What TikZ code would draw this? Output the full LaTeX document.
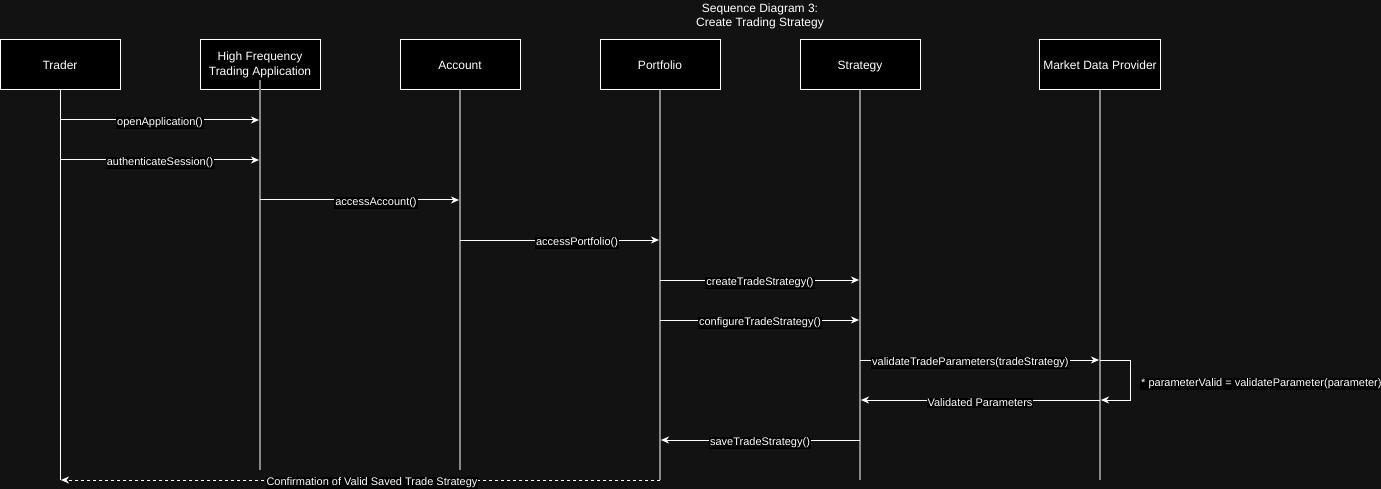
\documentclass[tikz,border=0pt]{standalone}
\usepackage{fontspec}
\setmainfont{Liberation Sans}
\usetikzlibrary{calc}
\usetikzlibrary{arrows.meta}
\definecolor{bgdark}{HTML}{121212}
\definecolor{lifegray}{HTML}{888888}

\begin{document}
\begin{tikzpicture}[
        x=1pt, y=-1pt,
        actor/.style={draw=white,fill=black,text=white,line width=1pt,minimum width=120pt,minimum height=50pt,align=center,font=\fontsize{12}{15}\selectfont},
        life/.style={draw=lifegray,line width=2pt},
        msg/.style={draw=white,line width=1pt,->,shorten >=1pt},
        lbl/.style={fill=black,text=white,inner xsep=1pt,inner ysep=0.5pt,yshift=-3pt,font=\fontsize{11}{13}\selectfont},
        >={Stealth[length=8pt,width=7pt,inset=2.5pt]}
    ]
        \useasboundingbox (0,0) rectangle (1381,489);
        \fill[bgdark] (0,0) rectangle (1381,489);

        \node[text=white,align=center,font=\fontsize{12}{14}\selectfont] (title) at (760,16) {Sequence Diagram 3:\\Create Trading Strategy};

        \node[actor] (trader) at (60,65) {Trader};
        \node[actor] (hfta) at (260,65) {High Frequency\\Trading Application};
        \node[actor] (account) at (460,65) {Account};
        \node[actor] (portfolio) at (660,65) {Portfolio};
        \node[actor,text depth=0pt] (strategy) at (860,65) {Strategy};
        \node[actor] (mdp) at (1100,65) {Market Data Provider};

        \draw[white,line width=1pt] (trader.south) -- (trader |- 0,480);
        \draw[life] ($(hfta.south)+(0,-10)$) -- (hfta |- 0,470);
        \draw[life] (account.south) -- (account |- 0,470);
        \draw[life] (portfolio.south) -- (portfolio |- 0,480);
        \draw[life] (strategy.south) -- (strategy |- 0,480);
        \draw[life] (mdp.south) -- (mdp |- 0,480);

        \draw[msg] (trader |- 0,120) -- node[lbl]{openApplication()} (hfta |- 0,120);
        \draw[msg] (trader |- 0,160) -- node[lbl]{authenticateSession()} (hfta |- 0,160);
        \draw[msg] (hfta |- 0,200) -- node[lbl,pos=0.58]{accessAccount()} (account |- 0,200);
        \draw[msg] (account |- 0,240) -- node[lbl,pos=0.585]{accessPortfolio()} (portfolio |- 0,240);
        \draw[msg] (portfolio |- 0,280) -- node[lbl]{createTradeStrategy()} (strategy |- 0,280);
        \draw[msg] (portfolio |- 0,320) -- node[lbl]{configureTradeStrategy()} (strategy |- 0,320);
        \draw[msg] (strategy |- 0,360) -- node[lbl,pos=0.46]{validateTradeParameters(tradeStrategy)} (mdp |- 0,360);

        \coordinate (loopc) at (1130,400);
        \draw[msg] (mdp |- 0,360) -| (loopc) -- (mdp |- 0,400);
        \node[lbl,anchor=west,yshift=0pt] (looplbl) at (1140,381) {* parameterValid = validateParameter(parameter)};

        \draw[msg] (mdp |- 0,400) -- node[lbl]{Validated Parameters} (strategy |- 0,400);
        \draw[msg] (strategy |- 0,440) -- node[lbl]{saveTradeStrategy()} (portfolio |- 0,440);
        \draw[msg,dash pattern=on 3pt off 3pt] (portfolio |- 0,480) -- node[lbl,pos=0.48]{Confirmation of Valid Saved Trade Strategy} (trader |- 0,480);
    \end{tikzpicture}
\end{document}
